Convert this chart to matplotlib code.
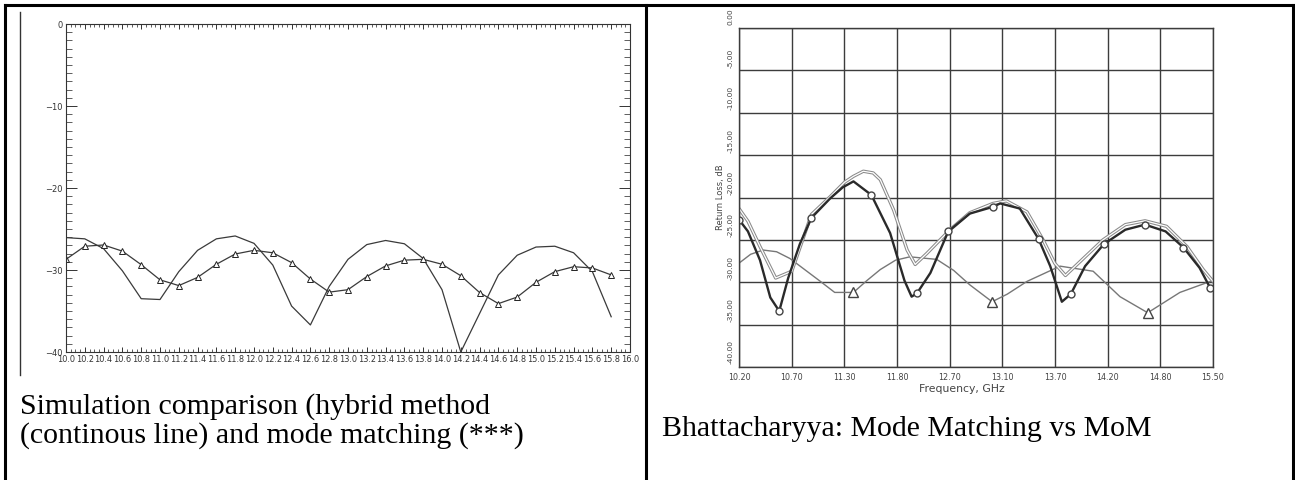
import numpy as np
import matplotlib
matplotlib.use("Agg")
import matplotlib.pyplot as plt
from matplotlib.ticker import MultipleLocator, FixedLocator

W, H = 1295, 480

# ---- left panel: hybrid method vs mode matching ----
freq_left = [10.0, 10.2, 10.4, 10.6, 10.8, 11.0, 11.2, 11.4, 11.6, 11.8,
             12.0, 12.2, 12.4, 12.6, 12.8, 13.0, 13.2, 13.4, 13.6, 13.8,
             14.0, 14.2, 14.4, 14.6, 14.8, 15.0, 15.2, 15.4, 15.6, 15.8]
hybrid_db = [-26.05, -26.2, -27.4, -30.1, -33.5, -33.6, -30.2, -27.6, -26.2, -25.85,
             -26.75, -29.4, -34.4, -36.7, -32.0, -28.7, -26.9, -26.4, -26.8, -28.6,
             -32.4, -40.0, -35.3, -30.6, -28.2, -27.2, -27.1, -27.9, -30.2, -35.7]
mode_match_db = [-28.7, -27.1, -26.95, -27.7, -29.35, -31.2, -31.9, -30.9, -29.3, -28.05,
                 -27.6, -27.9, -29.1, -31.1, -32.7, -32.4, -30.8, -29.5, -28.8, -28.7,
                 -29.3, -30.7, -32.75, -34.1, -33.3, -31.5, -30.2, -29.6, -29.75, -30.6]
left_xticks = [10.0, 10.2, 10.4, 10.6, 10.8, 11.0, 11.2, 11.4, 11.6, 11.8,
               12.0, 12.2, 12.4, 12.6, 12.8, 13.0, 13.2, 13.4, 13.6, 13.8,
               14.0, 14.2, 14.4, 14.6, 14.8, 15.0, 15.2, 15.4, 15.6, 15.8, 16.0]
left_yticks = [0, -10, -20, -30, -40]

# ---- right panel: Bhattacharyya, mode matching vs MoM ----
mm_freq = [10.20, 10.30, 10.435, 10.55, 10.65, 10.75, 10.88, 11.01, 11.22, 11.36,
           11.48, 11.68, 11.89, 12.05, 12.13, 12.19, 12.34, 12.54, 12.78, 13.04,
           13.12, 13.34, 13.55, 13.68, 13.81, 13.91, 14.07, 14.28, 14.52, 14.74,
           14.97, 15.17, 15.35, 15.47]
mm_db = [-22.6, -24.0, -27.4, -31.8, -33.4, -29.5, -25.5, -22.4, -20.1, -18.8,
         -18.1, -19.7, -24.2, -29.8, -31.7, -31.3, -28.9, -24.0, -21.9, -21.1,
         -20.7, -21.3, -24.9, -28.1, -32.3, -31.4, -28.1, -25.5, -23.8, -23.2,
         -24.0, -25.9, -28.3, -30.7]
mm_marker_idx = [0, 4, 7, 11, 15, 17, 19, 22, 25, 27, 29, 31, 33]

mom_freq = [10.20, 10.30, 10.435, 10.61, 10.79, 11.01, 11.22, 11.38, 11.48, 11.59,
            11.70, 11.78, 11.93, 12.08, 12.17, 12.30, 12.56, 12.78, 13.04, 13.19,
            13.42, 13.60, 13.73, 13.85, 13.96, 14.27, 14.52, 14.74, 14.98, 15.21,
            15.39, 15.50]
mom_db = [-21.3, -22.8, -25.8, -29.5, -28.7, -22.0, -19.9, -18.2, -17.5, -16.9,
          -17.1, -17.9, -21.5, -26.2, -27.9, -26.6, -23.8, -21.8, -20.7, -20.4,
          -21.7, -25.0, -27.75, -29.2, -28.1, -25.0, -23.2, -22.75, -23.4, -25.8,
          -28.5, -29.9]

ref_freq = [10.20, 10.33, 10.47, 10.62, 10.77, 11.11, 11.27, 11.48, 11.63, 11.78,
            11.95, 12.11, 12.41, 12.60, 12.78, 13.03, 13.20, 13.42, 13.79, 14.16,
            14.46, 14.77, 15.13, 15.47]
ref_db = [-27.75, -26.7, -26.2, -26.4, -27.2, -29.9, -31.2, -31.2, -29.8, -28.5,
          -27.4, -27.0, -27.3, -28.6, -30.3, -32.3, -31.4, -29.9, -28.1, -28.7,
          -31.7, -33.6, -31.2, -29.9]
ref_marker_idx = [7, 15, 21]

right_xticklabels = ["10.20", "10.70", "11.30", "11.80", "12.70",
                     "13.10", "13.70", "14.20", "14.80", "15.50"]
right_yticklabels = ["0.00", "-5.00", "-10.00", "-15.00", "-20.00",
                     "-25.00", "-30.00", "-35.00", "-40.00"]

caption_left = ["Simulation comparison (hybrid method",
                "(continous line) and mode matching (***)"]
caption_right = "Bhattacharyya: Mode Matching vs MoM"


def px_axes(fig, left, top, right, bottom):
    return fig.add_axes([left / W, 1 - bottom / H, (right - left) / W, (bottom - top) / H])


fig = plt.figure(figsize=(W / 100, H / 100), dpi=100)
fig.patch.set_facecolor("white")

# table frame drawn in pixel space
frame = fig.add_axes([0, 0, 1, 1])
frame.set_xlim(0, W)
frame.set_ylim(H, 0)
frame.axis("off")
frame.plot([5, 1293], [5, 5], color="black", lw=2.2)
frame.plot([5, 5], [5, H], color="black", lw=2.2)
frame.plot([646, 646], [5, H], color="black", lw=2.2)
frame.plot([1293, 1293], [5, H], color="black", lw=2.2)
frame.plot([20, 20], [12, 375], color="#333333", lw=1.0)

# captions
serif = ["Liberation Serif", "DejaVu Serif"]
cap_size = 21.5
frame.text(20, 414, caption_left[0], fontsize=cap_size, family=serif, va="baseline", ha="left")
frame.text(20, 443, caption_left[1], fontsize=cap_size, family=serif, va="baseline", ha="left")
frame.text(662, 436, caption_right, fontsize=cap_size, family=serif, va="baseline", ha="left")

# ---- left plot ----
axL = px_axes(fig, 66, 24, 630, 352)
line_col = "#3a3a3a"
axL.plot(freq_left, hybrid_db, color=line_col, lw=0.9)
axL.plot(freq_left, mode_match_db, color=line_col, lw=0.9, marker="^", ms=4.2,
         mfc="white", mec="#222222", mew=0.7)
axL.set_xlim(10.0, 16.0)
axL.set_ylim(-40, 0)
axL.xaxis.set_major_locator(FixedLocator(left_xticks))
axL.xaxis.set_minor_locator(MultipleLocator(0.05))
axL.yaxis.set_major_locator(FixedLocator(left_yticks))
axL.yaxis.set_minor_locator(MultipleLocator(1))
axL.set_xticklabels([f"{v:.1f}" for v in left_xticks])
axL.set_yticklabels([("\u2212" + str(abs(v))) if v < 0 else str(v) for v in left_yticks])
axL.tick_params(axis="x", which="major", direction="in", length=3.8, width=0.7,
                top=True, bottom=True, labelsize=5.9, pad=2.5, colors="#333333")
axL.tick_params(axis="x", which="minor", direction="in", length=2.2, width=0.6,
                top=True, bottom=True, colors="#444444")
axL.tick_params(axis="y", which="major", direction="in", length=8, width=0.7,
                left=True, right=True, labelsize=6.0, pad=2.5, colors="#333333")
axL.tick_params(axis="y", which="minor", direction="in", length=4.3, width=0.6,
                left=True, right=True, colors="#444444")
for s in axL.spines.values():
    s.set_color("#333333")
    s.set_linewidth(0.8)

# ---- right plot ----
axR = px_axes(fig, 739, 28, 1213, 367)
grid_col = "#3c3c3c"
xt = np.linspace(10.2, 15.5, len(right_xticklabels))
yt = np.linspace(0, -40, len(right_yticklabels))
axR.set_xlim(10.2, 15.5)
axR.set_ylim(-40, 0)
axR.set_xticks(xt)
axR.set_yticks(yt)
axR.grid(True, color=grid_col, lw=1.0)
axR.set_axisbelow(True)
for s in axR.spines.values():
    s.set_color(grid_col)
    s.set_linewidth(1.0)
axR.tick_params(length=0, labelleft=False)
axR.set_xticklabels(right_xticklabels, fontsize=5.8, color="#444444")
axR.tick_params(axis="x", pad=4.5)
for v, lab in zip(yt, right_yticklabels):
    axR.text(-0.012, v + 0.3, lab, transform=axR.get_yaxis_transform(), rotation=90,
             ha="right", va="bottom", fontsize=5.4, color="#444444")
axR.text(-0.03, 0.5, "Return Loss, dB", transform=axR.transAxes, rotation=90,
         ha="right", va="center", fontsize=6.0, color="#444444")
axR.text(0.47, -0.05, "Frequency, GHz", transform=axR.transAxes,
         ha="center", va="top", fontsize=7.8, color="#444444")

# reference curve with triangles
axR.plot(ref_freq, ref_db, color="#777777", lw=1.0, solid_joinstyle="round")
axR.plot([ref_freq[i] for i in ref_marker_idx], [ref_db[i] for i in ref_marker_idx],
         ls="none", marker="^", ms=6.5, mfc="white", mec="#444444", mew=1.0)
# MoM curve (outlined tube)
axR.plot(mom_freq, mom_db, color="#8a8a8a", lw=2.4, solid_joinstyle="round",
         solid_capstyle="round")
axR.plot(mom_freq, mom_db, color="white", lw=0.9, solid_joinstyle="round")
# mode matching curve with circles
axR.plot(mm_freq, mm_db, color="#2a2a2a", lw=1.7, solid_joinstyle="round")
axR.plot([mm_freq[i] for i in mm_marker_idx], [mm_db[i] for i in mm_marker_idx],
         ls="none", marker="o", ms=5, mfc="white", mec="#444444", mew=1.0)

fig.savefig("out.png", dpi=100)
